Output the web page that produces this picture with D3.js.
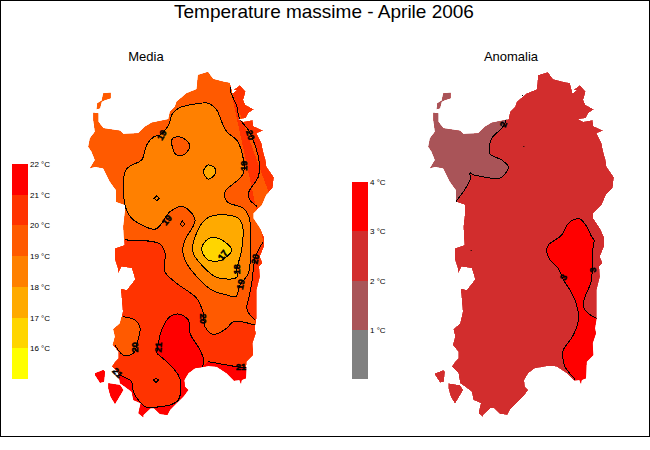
<!DOCTYPE html>
<html>
<head>
<meta charset="utf-8">
<script src="https://cdnjs.cloudflare.com/ajax/libs/d3/7.8.5/d3.min.js"></script>
<style>
  body { margin: 0; background: #fff; }
  text { font-family: "Liberation Sans", Arial, sans-serif; fill: #000; }
</style>
</head>
<body>
<div id="chart"></div>
<script>
// Map shapes are in grid units (3 units = 1 pixel)
const islandMain = [[40,98],[55,100],[55,125],[70,145],[120,152],[130,162],[175,160],[195,140],[215,128],[265,118],[270,95],[285,80],[290,65],[320,40],[350,28],[354,-15],[384,-24],[399,-3],[430,5],[450,9],[458,40],[470,30],[460,30],[480,15],[497,35],[490,60],[497,75],[522,88],[505,100],[497,115],[475,118],[490,125],[518,120],[520,138],[550,152],[530,160],[545,190],[550,215],[557,240],[560,260],[582,292],[578,325],[558,345],[545,375],[520,400],[520,415],[540,445],[552,470],[552,500],[540,530],[548,550],[538,560],[540,590],[530,630],[530,715],[525,745],[528,760],[518,790],[520,825],[500,845],[498,895],[485,900],[483,912],[478,900],[462,902],[440,880],[410,860],[385,858],[365,862],[345,865],[325,880],[313,900],[315,920],[325,930],[310,950],[290,970],[270,990],[262,1005],[240,1002],[222,985],[212,985],[190,1005],[190,1012],[175,1000],[182,970],[160,960],[155,935],[135,920],[120,910],[115,880],[95,860],[105,845],[115,835],[115,815],[98,795],[105,770],[100,748],[120,730],[128,695],[122,625],[140,630],[165,598],[155,565],[125,560],[115,580],[113,565],[105,540],[105,505],[133,495],[130,440],[135,395],[135,375],[108,365],[108,330],[90,305],[70,265],[45,260],[30,265],[45,240],[35,215],[25,200],[30,175],[45,155],[40,120]];
const islandAsinara = [[70,40],[92,38],[92,55],[75,60],[65,65],[60,85],[50,88],[52,70],[65,62]];
const islandSanPietro = [[45,880],[70,870],[75,875],[72,905],[60,908],[45,885]];
const islandAntioco = [[85,910],[120,915],[130,930],[105,972],[92,950],[85,925]];

// Media: contour lines
const contour20NE = [[450,20],[452,35],[470,78],[478,115],[505,150],[525,195],[538,250],[535,290],[505,340],[510,360],[532,380]];
const contour20E = [[550,485],[535,510],[525,535],[515,610],[505,660],[500,685],[510,705],[525,720]];
const contour20S = [[525,735],[460,725],[440,745],[400,763],[375,740],[370,700],[350,655],[290,610],[255,575],[255,520],[240,492],[135,480]];
const contour20SW = [[128,710],[165,720],[180,745],[175,775],[160,820],[130,825],[105,795]];
const contour21Mid = [[230,820],[245,750],[270,710],[295,702],[325,720],[330,760],[360,810],[372,845],[366,860]];
const contour21E = [[385,845],[470,860],[510,865]];
const contour21SW = [[100,868],[120,885],[155,905],[160,935],[175,960],[200,982],[240,980],[270,975],[295,960],[302,910],[295,885],[265,850],[230,820]];
const contour19 = [[268,130],[275,105],[295,85],[345,72],[385,70],[410,90],[425,125],[440,155],[470,180],[485,215],[490,280],[435,335],[435,355],[445,368],[490,385],[507,410],[512,460],[512,510],[505,580],[480,615],[467,650],[440,645],[395,630],[355,595],[320,550],[308,510],[315,480],[345,420],[310,380],[270,395],[245,430],[225,448],[180,432],[155,415],[135,375],[135,275],[150,258],[185,240],[200,195],[222,170],[240,165]];
const contour19Hole = [[278,175],[305,172],[330,198],[310,225],[290,225],[278,205]];
const contour18Spot = [[370,275],[385,255],[405,265],[405,282],[385,297]];
const contour18 = [[385,412],[470,412],[487,435],[485,510],[470,568],[470,592],[410,592],[365,555],[340,520],[342,480]];
const contour17 = [[365,510],[375,485],[400,472],[440,490],[455,510],[425,540],[385,540]];
const diamondA = [[222,355],[230,348],[238,355],[230,362]];
const diamondB = [[300,432],[307,423],[314,432],[307,440]];
const diamondC = [[221,900],[228,894],[236,900],[228,907]];

// Anomalia: contour lines
const anomaly2 = [[262,100],[255,130],[245,145],[215,175],[208,200],[210,222],[245,240],[265,260],[260,275],[238,295],[205,293],[155,282],[150,278],[150,300],[108,365]];
const anomaly3 = [[465,898],[435,860],[428,830],[430,810],[460,765],[475,720],[470,675],[450,630],[430,600],[415,565],[390,540],[380,510],[385,495],[425,465],[445,430],[465,418],[482,418],[500,440],[515,470],[522,480],[518,510],[517,530],[517,570],[512,610],[495,650],[490,680],[505,700],[530,715]];
const anomalySpecks = [[310,198],[152,510],[306,45]];

const contourLabels = [
  ["19",245,165,-60],["20",511,165,72],["19",490,257,-90],["19",260,420,-50],
  ["20",525,537,-78],["20",370,716,90],["20",165,802,-90],["21",235,802,-85],
  ["21",483,861,0],["21",113,878,45],["17",428,525,-52],["18",471,568,-90],["19",482,613,-78]
];
const anomalyLabels = [["2",250,133,-70],["3",430,592,-60],["3",518,570,-90]];

// Legends
const meanBreaks = [15,16,17,18,19,20,21,22];
const meanColors = ["#ffff00","#ffd500","#ffaa00","#ff8000","#ff5a00","#ff3300","#ff0000"];
const meanTicks = [16,17,18,19,20,21,22];
const anomalyBreaks = [0,1,2,3,4];
const anomalyColors = ["#808080","#a95458","#d22d2d","#ff0000"];
const anomalyTicks = [1,2,3,4];

const svg = d3.select("#chart").append("svg")
  .attr("width", 650).attr("height", 450)
  .style("display", "block");

svg.append("rect")
  .attr("x", 0.5).attr("y", 0.5).attr("width", 649).attr("height", 435.5)
  .attr("fill", "none").attr("stroke", "#000").attr("shape-rendering", "crispEdges");

svg.append("text").attr("x", 324).attr("y", 18).attr("text-anchor", "middle")
  .style("font-size", "19px").text("Temperature massime - Aprile 2006");
svg.append("text").attr("x", 146).attr("y", 61).attr("text-anchor", "middle")
  .style("font-size", "13px").text("Media");
svg.append("text").attr("x", 511).attr("y", 61).attr("text-anchor", "middle")
  .style("font-size", "13px").text("Anomalia");

const yScale = d3.scaleLinear().domain([-30, 1020]).range([70, 420]);
const line = d3.line();
const curved = d3.line().curve(d3.curveCatmullRom);
const ring = d3.line().curve(d3.curveCatmullRomClosed);
const islands = [islandMain, islandAsinara, islandSanPietro, islandAntioco];

function drawMap(id, left) {
  const xScale = d3.scaleLinear().domain([0, 630]).range([left, left + 210]);
  const project = pts => pts.map(p => [xScale(p[0]), yScale(p[1])]);
  const polygon = pts => line(project(pts)) + "Z";

  svg.append("clipPath").attr("id", id).append("path").attr("d", islands.map(polygon).join(""));
  const g = svg.append("g").attr("clip-path", `url(#${id})`);

  const paintFill = (d, color) => g.append("path").attr("d", d).attr("fill", color)
    .attr("shape-rendering", "crispEdges");
  const paintLine = d => g.append("path").attr("d", d)
    .attr("fill", "none").attr("stroke", "#000").attr("stroke-width", 1)
    .attr("shape-rendering", "crispEdges");

  return {
    xScale,
    polygon: (pts, color) => paintFill(polygon(pts), color),
    // pieces are joined in order: contour lines curved, the rest straight
    region: (pieces, color) => {
      const d = pieces.map((p, i) => {
        const s = (p.straight ? line : curved)(project(p.pts));
        return i ? "L" + s.slice(1) : s;
      }).join("");
      paintFill(d + "Z", color);
    },
    ring: (pts, color) => paintFill(ring(project(pts)), color),
    open: pts => paintLine(curved(project(pts))),
    closed: pts => paintLine(ring(project(pts))),
    diamond: pts => paintLine(polygon(pts)),
    labels: rows => rows.forEach(d => {
      svg.append("text")
        .attr("transform", `translate(${xScale(d[1])},${yScale(d[2])}) rotate(${d[3]})`)
        .attr("text-anchor", "middle").attr("dy", "0.36em")
        .style("font-size", "9px").style("font-weight", "bold")
        .attr("stroke", "#000").attr("stroke-width", 0.5)
        .text(d[0]);
    })
  };
}

// left map
const media = drawMap("clipMedia", 80);
media.polygon(islandMain, "#ff3300");
media.polygon(islandAsinara, "#ff5a00");
media.polygon(islandSanPietro, "#ff0000");
media.polygon(islandAntioco, "#ff0000");
media.region([{pts: contour20NE}, {pts: [[600,430]], straight: true}, {pts: contour20E}, {pts: contour20S},
  {pts: [[100,505],[0,505],[0,-30],[450,-30]], straight: true}], "#ff5a00");
media.region([{pts: contour20SW}, {pts: [[60,795],[60,710]], straight: true}], "#ff5a00");
media.region([{pts: contour21Mid}, {pts: contour21E}, {pts: [[560,880],[560,1040],[30,1040],[30,868]], straight: true},
  {pts: contour21SW}], "#ff0000");
media.ring(contour19, "#ff8000");
media.ring(contour19Hole, "#ff5a00");
media.ring(contour18Spot, "#ffaa00");
media.ring(contour18, "#ffaa00");
media.ring(contour17, "#ffd500");
[contour20NE, contour20E, contour20S, contour20SW, contour21Mid, contour21E, contour21SW].forEach(media.open);
[contour19, contour19Hole, contour18Spot, contour18, contour17].forEach(media.closed);
[diamondA, diamondB, diamondC].forEach(media.diamond);
media.labels(contourLabels);

// right map
const anomalia = drawMap("clipAnomalia", 420);
islands.forEach(s => anomalia.polygon(s, "#d22d2d"));
anomalia.region([{pts: anomaly2}, {pts: [[0,365],[0,0],[262,0]], straight: true}], "#a95458");
anomalia.region([{pts: anomaly3}, {pts: [[600,715],[600,940],[465,940]], straight: true}], "#ff0000");
anomalia.open(anomaly2);
anomalia.open(anomaly3);
svg.append("g").selectAll("rect").data(anomalySpecks).join("rect")
  .attr("x", d => anomalia.xScale(d[0])).attr("y", d => yScale(d[1]))
  .attr("width", 1).attr("height", 1).attr("fill", "#000");
anomalia.labels(anomalyLabels);

// Colour legends with a right-hand axis for the labels
function drawLegend(breaks, colors, ticks, x, yRange) {
  const scale = d3.scaleLinear().domain([breaks[0], breaks[breaks.length - 1]]).range(yRange);
  svg.append("g").selectAll("rect").data(colors).join("rect")
    .attr("x", x).attr("width", 16)
    .attr("y", (d, i) => scale(breaks[i + 1]))
    .attr("height", (d, i) => scale(breaks[i]) - scale(breaks[i + 1]))
    .attr("fill", d => d)
    .attr("shape-rendering", "crispEdges");
  const axis = svg.append("g")
    .attr("transform", `translate(${x + 16},0)`)
    .call(d3.axisRight(scale).tickValues(ticks).tickSize(0).tickPadding(2)
      .tickFormat(d => d + " °C"));
  axis.select(".domain").remove();
  axis.selectAll("text").style("font-size", "8px")
    .style("font-family", '"Liberation Sans", Arial, sans-serif');
}

drawLegend(meanBreaks, meanColors, meanTicks, 12, [379, 164]);
drawLegend(anomalyBreaks, anomalyColors, anomalyTicks, 352, [379, 182]);
</script>
</body>
</html>
